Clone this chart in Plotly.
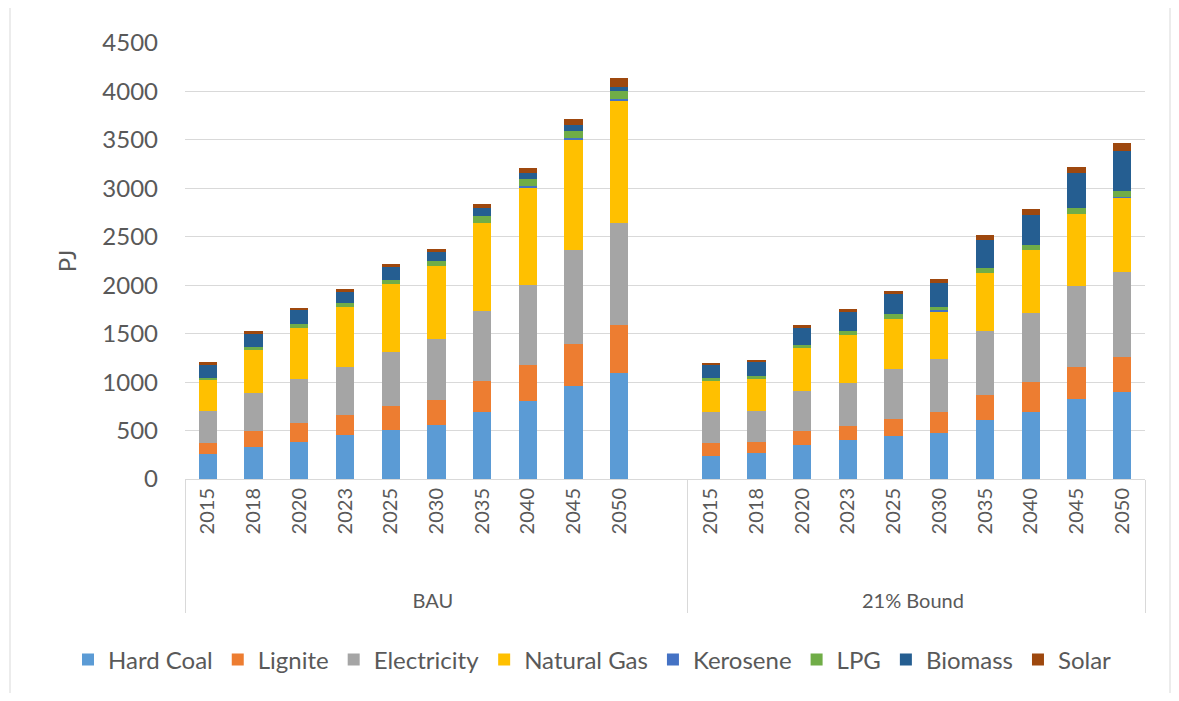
import plotly.graph_objects as go

# ─────────────────────────────────────────────
# Data (PJ)
# ─────────────────────────────────────────────
years = ["2015", "2018", "2020", "2023", "2025", "2030", "2035", "2040", "2045", "2050"]
scenarios = ["BAU", "21% Bound"]
series_names = ["Hard Coal", "Lignite", "Electricity", "Natural Gas", "Kerosene", "LPG", "Biomass", "Solar"]
series_colors = ["#5B9BD5", "#ED7D31", "#A5A5A5", "#FFC000", "#4472C4", "#70AD47", "#255E91", "#9E480E"]

hard_coal_bau = [255, 334, 383, 452, 508, 556, 691, 803, 964, 1091]
hard_coal_21 = [238, 269, 352, 400, 446, 473, 604, 693, 823, 902]
lignite_bau = [114, 163, 196, 207, 244, 261, 321, 373, 434, 495]
lignite_21 = [131, 114, 141, 145, 175, 216, 260, 305, 337, 357]
electricity_bau = [338, 389, 449, 500, 563, 629, 721, 828, 961, 1060]
electricity_21 = [321, 324, 411, 448, 514, 546, 659, 711, 837, 882]
natural_gas_bau = [321, 448, 534, 613, 694, 755, 913, 1005, 1149, 1265]
natural_gas_21 = [324, 321, 448, 490, 515, 497, 607, 655, 741, 768]
kerosene_bau = [0, 0, 0, 0, 0, 0, 0, 12, 15, 8]
kerosene_21 = [0, 0, 0, 0, 0, 12, 0, 0, 0, 5]
lpg_bau = [17, 28, 35, 47, 45, 45, 65, 71, 65, 90]
lpg_21 = [31, 34, 35, 44, 48, 34, 48, 51, 62, 62]
biomass_bau = [131, 135, 148, 111, 130, 99, 82, 69, 65, 34]
biomass_21 = [138, 149, 175, 195, 213, 240, 292, 306, 357, 405]
solar_bau = [31, 31, 17, 30, 34, 31, 45, 44, 62, 96]
solar_21 = [14, 14, 31, 34, 31, 48, 51, 62, 61, 92]

bau_values = [hard_coal_bau, lignite_bau, electricity_bau, natural_gas_bau,
              kerosene_bau, lpg_bau, biomass_bau, solar_bau]
bound_values = [hard_coal_21, lignite_21, electricity_21, natural_gas_21,
                kerosene_21, lpg_21, biomass_21, solar_21]

# ─────────────────────────────────────────────
# Multi-level category axis (BAU has one empty slot at the end)
# year labels get leading no-break spaces so the scenario row sits lower
# ─────────────────────────────────────────────
PAD = "\u00a0" * 7
year_labels = [PAD + y for y in years]
x_outer = [scenarios[0]] * (len(years) + 1) + [scenarios[1]] * len(years)
x_inner = year_labels + [" "] + year_labels

FONT = "Lato, 'Liberation Sans', sans-serif"
TEXT = "#595959"
GRID = "#D9D9D9"

# page body has an 8px margin, so the figure is drawn 8px in from the window edge
W, H, OFF = 1179 - 16, 701 - 16, 8
L, R, T, B = 185 - OFF, 1145 - OFF, 43 - OFF, 480 - OFF
PW, PH = R - L, B - T

fig = go.Figure()
for name, color, bau, bound in zip(series_names, series_colors, bau_values, bound_values):
    fig.add_trace(go.Bar(
        name=name,
        x=[x_outer, x_inner],
        y=bau + [None] + bound,
        marker=dict(color=color, line=dict(width=0)),
    ))

fig.update_layout(
    width=W, height=H,
    barmode="stack",
    bargap=0.6,
    plot_bgcolor="white",
    paper_bgcolor="white",
    font=dict(family=FONT, color=TEXT),
    margin=dict(l=L, r=W - R, t=T, b=H - B),
    legend=dict(
        orientation="h",
        # left of the plot area, so the legend may use the left margin too
        x=(68 - 185) / PW, xanchor="left",
        y=(480 - 660) / PH, yanchor="middle",
        font=dict(size=24, color=TEXT),
        traceorder="normal",
        itemwidth=30,
    ),
    xaxis=dict(
        type="multicategory",
        tickangle=-90,
        tickfont=dict(size=20, color=TEXT),
        showline=True, linecolor=GRID, linewidth=1,
        showdividers=True, dividercolor=GRID, dividerwidth=1,
        ticks="",
        showgrid=False,
    ),
    yaxis=dict(
        range=[0, 4500],
        dtick=500,
        tickfont=dict(size=24, color=TEXT),
        gridcolor=GRID, gridwidth=1,
        zeroline=False,
        showline=False,
        ticklabelstandoff=26,
        title=dict(text="PJ", font=dict(size=24, color=TEXT), standoff=18),
    ),
    shapes=[dict(
        type="rect", xref="paper", yref="paper",
        x0=(10 - 185) / PW, x1=(1170 - 185) / PW,
        y0=(480 - 697) / PH, y1=(480 - 7) / PH,
        line=dict(color="#D9D9D9", width=1), fillcolor="rgba(0,0,0,0)",
        layer="below",
    )],
)

fig.write_html("out.html")
